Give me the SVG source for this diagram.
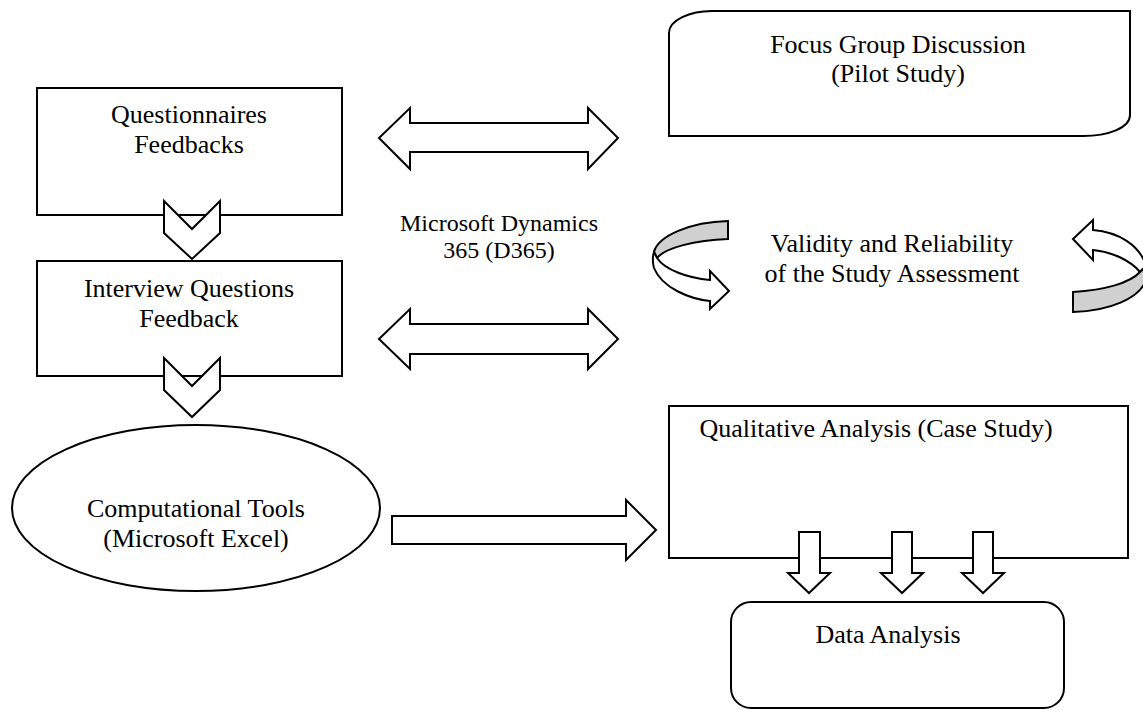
<svg xmlns="http://www.w3.org/2000/svg" width="1143" height="710" viewBox="0 0 1143 710">
<style>
.s{fill:#fff;stroke:#000;stroke-width:2;stroke-linejoin:miter}
.g{fill:#d0d0d0;stroke:#000;stroke-width:2}
.t{font-family:"Liberation Serif","Times New Roman",serif;font-size:26px;fill:#000;text-anchor:middle}
.t2{font-family:"Liberation Serif","Times New Roman",serif;font-size:24px;fill:#000;text-anchor:middle}
</style>
<rect width="1143" height="710" fill="#fff"/>
<g id="questionnaires">
<rect class="s" x="37" y="88" width="305" height="127"/>
<text class="t" x="189" y="123">Questionnaires</text>
<text class="t" x="189" y="153">Feedbacks</text>
</g>
<g id="interview">
<rect class="s" x="37" y="261" width="305" height="115"/>
<text class="t" x="189" y="297">Interview Questions</text>
<text class="t" x="189" y="327">Feedback</text>
</g>
<g id="computational">
<ellipse class="s" cx="196" cy="508" rx="184" ry="83"/>
<text class="t" x="196" y="517">Computational Tools</text>
<text class="t" x="196" y="547">(Microsoft Excel)</text>
</g>
<g id="focus">
<path class="s" d="M669,33 C669,20 690,11 712,11 L1130,11 L1130,115 C1130,128 1108,136 1083,136 L669,136 Z"/>
<text class="t" x="898" y="53">Focus Group Discussion</text>
<text class="t" x="898" y="82">(Pilot Study)</text>
</g>
<g id="d365">
<text class="t2" x="499" y="231">Microsoft Dynamics</text>
<text class="t2" x="499" y="258">365 (D365)</text>
</g>
<g id="validity">
<text class="t" x="892" y="252">Validity and Reliability</text>
<text class="t" x="892" y="282">of the Study Assessment</text>
</g>
<g id="qualitative">
<rect class="s" x="669" y="406" width="459" height="152"/>
<text class="t" x="876" y="437">Qualitative Analysis (Case Study)</text>
</g>
<g id="data">
<rect class="s" x="731" y="602" width="333" height="106" rx="20" ry="20"/>
<text class="t" x="888" y="643">Data Analysis</text>
</g>
<g id="connectors">
<polygon class="s" points="164,201 192,229 220,201 220,233 192,259 164,233"/>
<polygon class="s" points="164,358 192,386 220,358 220,390 192,417 164,390"/>
<polygon class="s" points="379,138 410,108 410,123 588,123 588,108 618,138 588,169 588,152 410,152 410,169"/>
<polygon class="s" points="379,339 410,309 410,324 588,324 588,309 618,339 588,369 588,354 410,354 410,369"/>
<polygon class="s" points="392,516 626,516 626,500 656,530 626,560 626,544 392,544"/>
<polygon class="s" points="799,532 820,532 820,573 830,573 809,593 788,573 799,573"/>
<polygon class="s" points="892,532 912,532 912,573 923,573 902,593 881,573 892,573"/>
<polygon class="s" points="973,532 993,532 993,573 1004,573 983,593 962,573 973,573"/>
<path class="g" d="M728,221 L728,239 C695,240 665,248 657,258 L654,252 C658,236 690,222 728,221 Z"/>
<path class="s" d="M654,252 C652,258 653,264 654,268 C662,288 690,299 710,301 L710,309 L729,291 L710,271 L710,280 C688,278 665,270 657,258 Z"/>
<path class="s" d="M1073,239 L1093,220 L1093,230 C1118,232 1140,245 1146,266 L1140,272 C1130,260 1112,252 1093,250 L1093,260 Z"/>
<path class="g" d="M1140,272 C1130,283 1105,290 1073,292 L1073,312 C1110,311 1140,298 1146,280 L1146,266 Z"/>
</g>
</svg>
